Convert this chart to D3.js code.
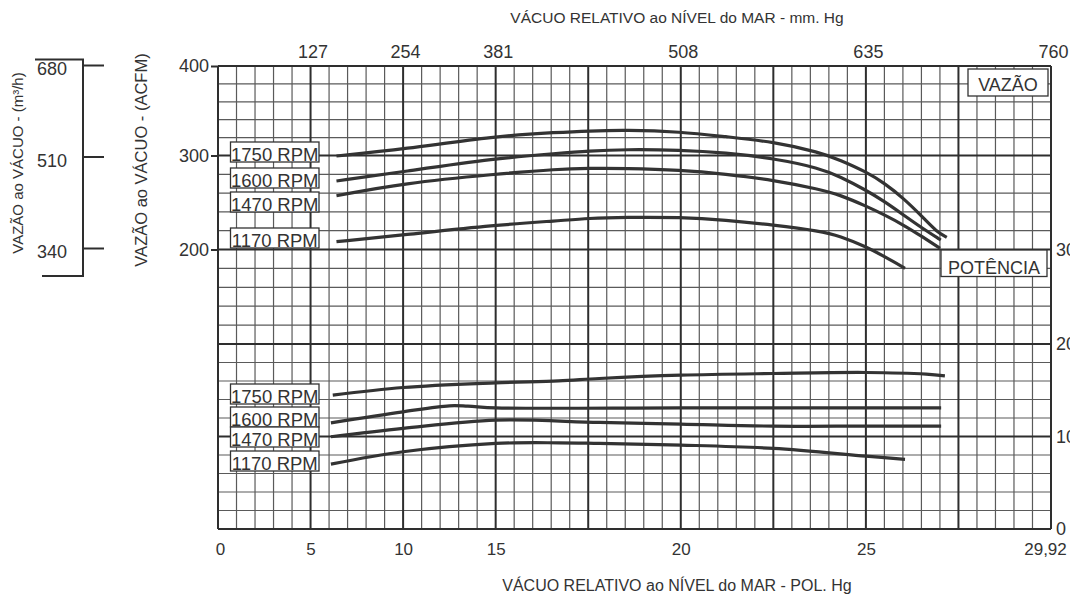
<!DOCTYPE html>
<html><head><meta charset="utf-8">
<script src="https://cdn.jsdelivr.net/npm/d3@7"></script>
<style>
html,body{margin:0;padding:0;background:#fff;overflow:hidden}
svg{display:block}
text{font-family:"Liberation Sans",Arial,Helvetica,sans-serif;fill:#333}
</style></head><body>
<svg id="c" width="1070" height="598"></svg>
<script>
// ---------------- DATA ----------------
const rpmLabels = ["1750 RPM", "1600 RPM", "1470 RPM", "1170 RPM"];
const inHgTicks = [0, 5, 10, 15, 20, 25, 29.92];
const inHgTickLabels = ["0", "5", "10", "15", "20", "25", "29,92"];
const mmHgTicks = [127, 254, 381, 508, 635, 760];
const acfmTicks = [200, 300, 400];
const m3hTicks = [340, 510, 680];
const powerTicks = [0, 10, 20, 30];

// flow (ACFM) vs vacuum (in Hg)
const flow1750 = [[6.4,299.5],[10,306.9],[15,321.8],[16.7,325.9],[17.5,327.4],[18.5,328.5],[20,326.6],[21.2,321.0],[22.5,315.4],[23.76,303.5],[24.3,295.2],[25,282.8],[25.5,270.4],[26.0,254.5],[26.5,234.9],[26.88,218.9],[27.15,213.0]];
const flow1600 = [[6.4,272.9],[10,282.8],[15,297.0],[16.7,302.5],[17.5,305.0],[18.5,306.9],[20,306.1],[21.2,303.1],[22.5,297.0],[23.76,286.5],[24.3,277.4],[25,263.3],[25.5,250.9],[26.0,236.7],[26.5,222.6],[26.99,210.1]];
const flow1470 = [[6.4,257.2],[10,270.4],[15,280.3],[16.7,285.6],[17.5,286.4],[18.5,286.4],[20,284.6],[21.2,280.3],[22.5,273.9],[23.76,264.0],[24.3,258.0],[25,246.3],[25.5,236.7],[26.0,226.1],[26.5,213.6],[26.97,201.3]];
const flow1170 = [[6.4,208.3],[10,215.4],[15,226.1],[16.7,230.6],[17.5,233.2],[18.5,234.3],[20,234.3],[21.2,231.4],[22.5,226.1],[23.76,219.7],[24.3,214.4],[25,203.0],[25.5,192.4],[26.04,180.1]];

// power vs vacuum (in Hg)
const power1750 = [[6.2,14.47],[10,15.3],[15,15.8],[16.7,16.01],[17.8,16.27],[20,16.63],[22.5,16.81],[25,16.92],[26.6,16.74],[27.1,16.55]];
const power1600 = [[6.1,11.48],[10,12.67],[12.5,13.32],[13.5,13.28],[15,13.1],[20,13.1],[25,13.1],[27.0,13.1]];
const power1470 = [[6.1,9.97],[10,10.87],[15,11.77],[17.8,11.52],[20,11.34],[22.5,11.12],[25,11.12],[27.0,11.12]];
const power1170 = [[6.1,7.02],[10,8.35],[15,9.25],[16.7,9.32],[17.8,9.25],[20,9.07],[22.5,8.71],[25,7.88],[26.04,7.53]];

const flowSeries = [flow1750, flow1600, flow1470, flow1170];
const powerSeries = [power1750, power1600, power1470, power1170];

// ---------------- LAYOUT ----------------
const P = {left: 218, right: 1051, top: 66, bottom: 529};
const W = P.right - P.left;
const majorIdx = [0, 1, 2, 3, 5, 7, 9];          // grid major column of each inHg tick
const xPos = majorIdx.map(i => P.left + W * i / 9);
const rowMajorY = [P.top, 155.5, 249.5, 344, 436.5, P.bottom]; // major row positions (top→bottom)

const x = d3.scaleLinear().domain(inHgTicks).range(xPos);
const xMm = d3.scaleLinear().domain([0].concat(mmHgTicks)).range(xPos);
const yFlow = d3.scaleLinear().domain([400, 300, 200, 100, 0, -100]).range(rowMajorY);
const yPow = d3.scaleLinear().domain([50, 40, 30, 20, 10, 0]).range(rowMajorY);
const yM3h = d3.scaleLinear().domain([340, 680]).range([248, 65]);
const gx = d3.scaleLinear().domain([0, 45]).range([P.left, P.right]);
const gy = d3.scaleLinear().domain([0, 5, 10, 15, 20, 25]).range(rowMajorY);

const svg = d3.select("#c");
svg.append("rect").attr("width", 1070).attr("height", 598).attr("fill", "#fff");

// ---------------- GRID ----------------
const grid = svg.append("g");
const cols = d3.range(0, 46), rows = d3.range(0, 26);
grid.selectAll("line.vmin").data(cols.filter(i => i % 5)).join("line")
  .attr("x1", d => gx(d)).attr("x2", d => gx(d)).attr("y1", P.top).attr("y2", P.bottom)
  .attr("stroke", "#5a5a5a").attr("stroke-width", 1.2);
grid.selectAll("line.hmin").data(rows.filter(i => i % 5)).join("line")
  .attr("y1", d => gy(d)).attr("y2", d => gy(d)).attr("x1", P.left).attr("x2", P.right)
  .attr("stroke", "#5a5a5a").attr("stroke-width", 1.2);
grid.selectAll("line.vmaj").data(cols.filter(i => i % 5 === 0)).join("line")
  .attr("x1", d => gx(d)).attr("x2", d => gx(d)).attr("y1", P.top).attr("y2", P.bottom)
  .attr("stroke", "#2e2e2e").attr("stroke-width", 2);
grid.selectAll("line.hmaj").data(rows.filter(i => i % 5 === 0)).join("line")
  .attr("y1", d => gy(d)).attr("y2", d => gy(d)).attr("x1", P.left).attr("x2", P.right)
  .attr("stroke", "#2e2e2e").attr("stroke-width", 2);

// ---------------- AXES ----------------
function styleAxis(g, size) {
  g.select(".domain").remove();
  g.selectAll("line").attr("stroke", "#2e2e2e").attr("stroke-width", 2);
  g.selectAll("text").attr("fill", "#333").style("font-size", size + "px")
    .style("font-family", '"Liberation Sans",Arial,sans-serif');
}
// bottom inHg
svg.append("g").attr("transform", `translate(0,${P.bottom})`)
  .call(d3.axisBottom(x).tickValues(inHgTicks).tickFormat((d, i) => inHgTickLabels[i]).tickSize(0).tickPadding(14))
  .call(g => styleAxis(g, 17))
  .call(g => g.selectAll("text").attr("dx", (d, i) => i === 0 ? 2 : (i === inHgTicks.length - 1 ? -6 : 0)));
// top mmHg
svg.append("g").attr("transform", `translate(0,${P.top})`)
  .call(d3.axisTop(xMm).tickValues(mmHgTicks).tickSize(0).tickPadding(8))
  .call(g => styleAxis(g, 18))
  .call(g => g.selectAll("text").attr("dx", 2));
// left ACFM
svg.append("g").attr("transform", `translate(${P.left},0)`)
  .call(d3.axisLeft(yFlow).tickValues(acfmTicks).tickSize(7).tickPadding(2))
  .call(g => styleAxis(g, 18));
// right power
svg.append("g").attr("transform", `translate(${P.right},0)`)
  .call(d3.axisRight(yPow).tickValues(powerTicks).tickSize(0).tickPadding(5))
  .call(g => styleAxis(g, 18));
// far-left m3/h
const bx = 83;
svg.append("g").attr("transform", `translate(${bx},0)`)
  .call(d3.axisLeft(yM3h).tickValues(m3hTicks).tickSize(-21).tickPadding(16))
  .call(g => styleAxis(g, 18))
  .call(g => g.selectAll("text").attr("dy", "0.55em"));
svg.append("path")
  .attr("d", `M35,59.5 H${bx} V276 H42`)
  .attr("fill", "none").attr("stroke", "#2e2e2e").attr("stroke-width", 2);

// ---------------- TITLES ----------------
svg.append("text").attr("x", 677).attr("y", 22.5).attr("text-anchor", "middle")
  .style("font-size", "15.5px").text("VÁCUO RELATIVO ao NÍVEL do MAR - mm. Hg");
svg.append("text").attr("x", 677).attr("y", 591).attr("text-anchor", "middle")
  .style("font-size", "16px").text("VÁCUO RELATIVO ao NÍVEL do MAR - POL. Hg");
svg.append("text").attr("transform", "translate(22.5,163) rotate(-90)").attr("text-anchor", "middle")
  .style("font-size", "15px").text("VAZÃO ao VÁCUO - (m³/h)");
svg.append("text").attr("transform", "translate(146.5,160) rotate(-90)").attr("text-anchor", "middle")
  .style("font-size", "16.5px").text("VAZÃO ao VÁCUO - (ACFM)");

// ---------------- CURVES ----------------
const lineFlow = d3.line().x(d => x(d[0])).y(d => yFlow(d[1])).curve(d3.curveBasis);
const linePow = d3.line().x(d => x(d[0])).y(d => yPow(d[1])).curve(d3.curveCatmullRom.alpha(0.5));
svg.append("g").selectAll("path").data(flowSeries).join("path")
  .attr("d", lineFlow).attr("fill", "none").attr("stroke", "#333").attr("stroke-width", 3.2);
svg.append("g").selectAll("path").data(powerSeries).join("path")
  .attr("d", linePow).attr("fill", "none").attr("stroke", "#333").attr("stroke-width", 3.2);

// ---------------- LABEL BOXES ----------------
function box(x0, y0, w, h, label, fs, base) {
  const g = svg.append("g");
  g.append("rect").attr("x", x0).attr("y", y0).attr("width", w).attr("height", h)
    .attr("fill", "#fff").attr("stroke", "#333").attr("stroke-width", 1.3);
  g.append("text").attr("x", x0 + w / 2).attr("y", y0 + base).attr("text-anchor", "middle")
    .style("font-size", fs + "px").text(label);
}
const upperTops = [142, 168, 192, 228];
const lowerTops = [384, 407, 427, 451];
rpmLabels.forEach((l, i) => box(230.5, upperTops[i], 88.5, 20, l, 18.5, 18.5));
rpmLabels.forEach((l, i) => box(230.5, lowerTops[i], 88.5, 20, l, 18.5, 18.5));
box(968, 69, 80, 27, "VAZÃO", 18, 22);
box(941, 250, 106, 26.5, "POTÊNCIA", 18, 23.5);
</script>
</body></html>
